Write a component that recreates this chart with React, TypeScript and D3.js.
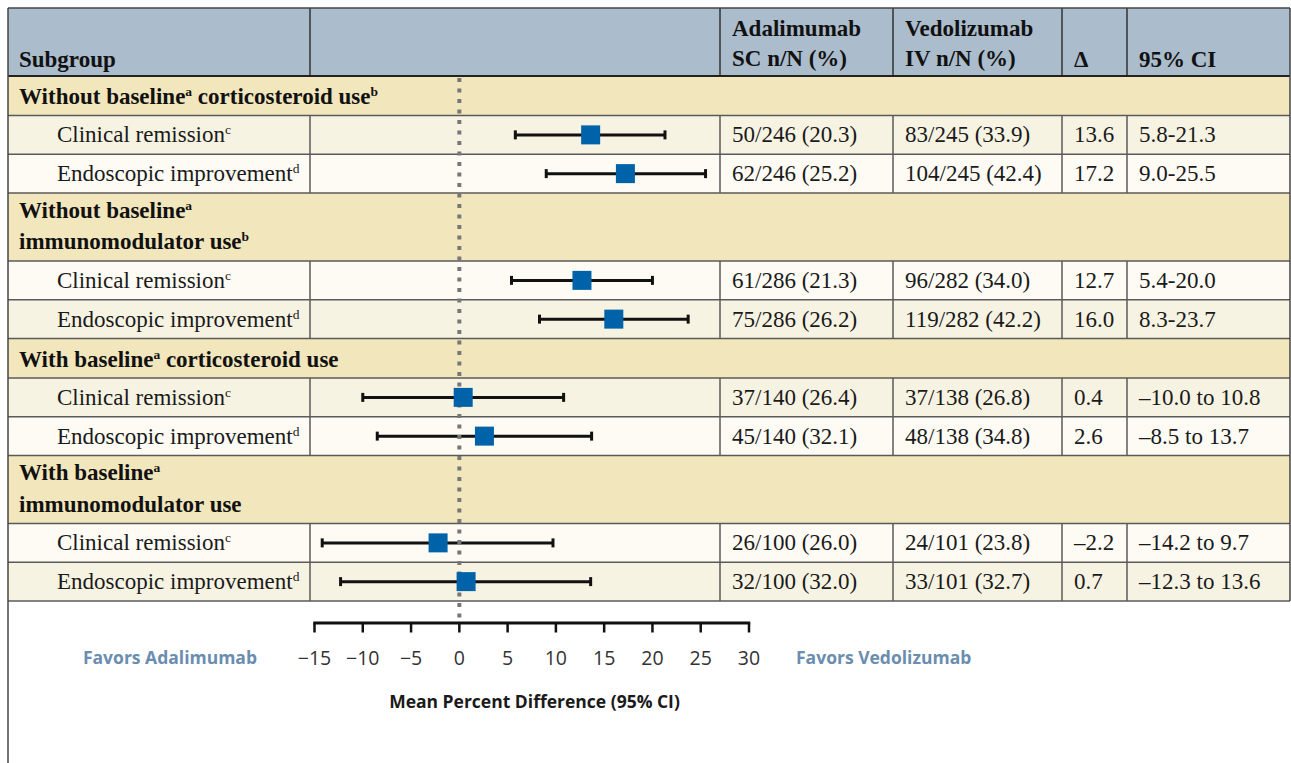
import React from "react";
import * as d3 from "d3";

// ---------- data ----------
const groupTitles: string[][] = [
  ["Without baseline^a corticosteroid use^b"],
  ["Without baseline^a", "immunomodulator use^b"],
  ["With baseline^a corticosteroid use"],
  ["With baseline^a", "immunomodulator use"],
];
const outcomeLabels = ["Clinical remission^c", "Endoscopic improvement^d"];
const adalimumabText = [
  "50/246 (20.3)", "62/246 (25.2)",
  "61/286 (21.3)", "75/286 (26.2)",
  "37/140 (26.4)", "45/140 (32.1)",
  "26/100 (26.0)", "32/100 (32.0)",
];
const vedolizumabText = [
  "83/245 (33.9)", "104/245 (42.4)",
  "96/282 (34.0)", "119/282 (42.2)",
  "37/138 (26.8)", "48/138 (34.8)",
  "24/101 (23.8)", "33/101 (32.7)",
];
const deltaValues = [13.6, 17.2, 12.7, 16.0, 0.4, 2.6, -2.2, 0.7];
const ciLow = [5.8, 9.0, 5.4, 8.3, -10.0, -8.5, -14.2, -12.3];
const ciHigh = [21.3, 25.5, 20.0, 23.7, 10.8, 13.7, 9.7, 13.6];
const tickValues = [-15, -10, -5, 0, 5, 10, 15, 20, 25, 30];
const headerLabels: string[][] = [
  ["Subgroup"],
  [],
  ["Adalimumab", "SC n/N (%)"],
  ["Vedolizumab", "IV n/N (%)"],
  ["Δ"],
  ["95% CI"],
];
const axisTitle = "Mean Percent Difference (95% CI)";
const favorsLeft = "Favors Adalimumab";
const favorsRight = "Favors Vedolizumab";

// ---------- layout ----------
const W = 1291;
const H = 763;
const tableLeft = 8;
const tableRight = 1290;
const tableTop = 8;
const headerBottom = 76;
const colLines = [310, 720, 893, 1062, 1127];
const dataRowH = 38.75;
const groupH1 = 39.5;
const groupH2 = 68;

const SERIF = "'Liberation Serif', 'Times New Roman', serif";
const SANS = "'Open Sans', 'Noto Sans', sans-serif";
const FS = 23;
const SUP = 13.5;
const SHIFT = 8;

const C_HEADER = "#abbccc";
const C_TAN = "#f2e6bc";
const C_DARK = "#f7f3e3";
const C_LIGHT = "#fdfbf4";
const C_BORDER = "#5a5a5a";
const C_BLUE = "#0063a9";
const C_FAVOR = "#6a8db0";

const fmt = (v: number) => v.toFixed(1).replace("-", "\u2013");
const ciString = (lo: number, hi: number) =>
  lo < 0 ? `${fmt(lo)} to ${fmt(hi)}` : `${fmt(lo)}-${fmt(hi)}`;

function rich(str: string, supSize = SUP, shift = SHIFT) {
  const parts = str.split(/\^([a-z])/);
  const out: React.ReactNode[] = [];
  let shifted = false;
  parts.forEach((p, i) => {
    if (i % 2 === 1) {
      out.push(
        <tspan key={i} fontSize={supSize} dy={-shift}>
          {p}
        </tspan>
      );
      shifted = true;
    } else if (p) {
      out.push(
        <tspan key={i} dy={shifted ? shift : 0}>
          {p}
        </tspan>
      );
      shifted = false;
    }
  });
  return out;
}

type Row =
  | { kind: "group"; y0: number; y1: number; lines: string[]; fill: string }
  | { kind: "data"; y0: number; y1: number; idx: number; label: string; fill: string };

function buildRows(): Row[] {
  const rows: Row[] = [];
  let y = headerBottom;
  let stripe = 0;
  let idx = 0;
  groupTitles.forEach((lines) => {
    const h = lines.length > 1 ? groupH2 : groupH1;
    rows.push({ kind: "group", y0: y, y1: y + h, lines, fill: C_TAN });
    y += h;
    stripe++;
    outcomeLabels.forEach((label) => {
      rows.push({
        kind: "data",
        y0: y,
        y1: y + dataRowH,
        idx,
        label,
        fill: stripe % 2 === 1 ? C_DARK : C_LIGHT,
      });
      y += dataRowH;
      stripe++;
      idx++;
    });
  });
  return rows;
}

export default function App() {
  const rows = buildRows();
  const tableBottom = rows[rows.length - 1].y1;
  const x = d3.scaleLinear().domain([-15, 30]).range([314.5, 749]);
  const axisY = 623;
  const dataRows = rows.filter((r) => r.kind === "data") as Extract<Row, { kind: "data" }>[];

  return (
    <svg
      width={W}
      height={H}
      style={{ position: "absolute", left: 0, top: 0, display: "block", background: "#fff" }}
    >
      {/* header */}
      <rect x={tableLeft} y={tableTop} width={tableRight - tableLeft} height={headerBottom - tableTop} fill={C_HEADER} />
      {/* row fills */}
      {rows.map((r, i) => (
        <rect key={"f" + i} x={tableLeft} y={r.y0} width={tableRight - tableLeft} height={r.y1 - r.y0} fill={r.fill} />
      ))}
      {/* vertical column lines: header */}
      {colLines.map((cx, i) => (
        <line key={"hv" + i} x1={cx} x2={cx} y1={tableTop} y2={headerBottom} stroke="#333" strokeWidth={1.5} />
      ))}
      {/* vertical column lines: data rows */}
      {dataRows.map((r, i) =>
        colLines.map((cx, j) => (
          <line key={"dv" + i + "-" + j} x1={cx} x2={cx} y1={r.y0} y2={r.y1} stroke={C_BORDER} strokeWidth={1.5} />
        ))
      )}
      {/* horizontal lines */}
      {rows.map((r, i) => (
        <line key={"h" + i} x1={tableLeft} x2={tableRight} y1={r.y1} y2={r.y1} stroke={C_BORDER} strokeWidth={1.5} />
      ))}
      <line x1={tableLeft} x2={tableRight} y1={headerBottom} y2={headerBottom} stroke="#222" strokeWidth={1.8} />
      <line x1={tableLeft} x2={tableRight} y1={tableTop} y2={tableTop} stroke="#444" strokeWidth={1.5} />
      {/* outer frame */}
      <line x1={tableLeft} x2={tableLeft} y1={tableTop} y2={H} stroke="#444" strokeWidth={1.5} />
      <line x1={tableRight} x2={tableRight} y1={tableTop} y2={tableBottom} stroke="#444" strokeWidth={1.5} />

      {/* header text */}
      {headerLabels.map((lines, i) => {
        const tx = i === 0 ? 19 : colLines[i - 1] + 12;
        return lines.map((ln, k) => (
          <text
            key={"ht" + i + "-" + k}
            x={tx}
            y={lines.length === 2 ? (k === 0 ? 36 : 66) : 67}
            fontFamily={SERIF}
            fontWeight="bold"
            fontSize={FS}
            fill="#111"
          >
            {ln}
          </text>
        ));
      })}

      {/* group labels */}
      {rows.map((r, i) => {
        if (r.kind !== "group") return null;
        const cy = (r.y0 + r.y1) / 2;
        return r.lines.map((ln, k) => (
          <text
            key={"g" + i + "-" + k}
            x={19}
            y={r.lines.length === 1 ? cy + 8.5 : k === 0 ? cy - 9.5 : cy + 22}
            fontFamily={SERIF}
            fontWeight="bold"
            fontSize={FS}
            fill="#111"
          >
            {rich(ln)}
          </text>
        ));
      })}

      {/* data text */}
      {dataRows.map((r) => {
        const by = (r.y0 + r.y1) / 2 + 7.5;
        const i = r.idx;
        const cells = [
          adalimumabText[i],
          vedolizumabText[i],
          fmt(deltaValues[i]),
          ciString(ciLow[i], ciHigh[i]),
        ];
        return (
          <g key={"d" + i} fontFamily={SERIF} fontSize={FS} fill="#1a1a1a">
            <text x={57} y={by}>
              {rich(r.label)}
            </text>
            {cells.map((c, j) => (
              <text key={j} x={colLines[j + 1] + 12} y={by}>
                {c}
              </text>
            ))}
          </g>
        );
      })}

      {/* CI whiskers */}
      {dataRows.map((r) => {
        const cy = (r.y0 + r.y1) / 2;
        const i = r.idx;
        const x0 = x(ciLow[i]);
        const x1 = x(ciHigh[i]);
        return (
          <g key={"ci" + i} stroke="#111" strokeWidth={3}>
            <line x1={x0} x2={x1} y1={cy} y2={cy} />
            <line x1={x0} x2={x0} y1={cy - 4.5} y2={cy + 4.5} />
            <line x1={x1} x2={x1} y1={cy - 4.5} y2={cy + 4.5} />
          </g>
        );
      })}

      {/* zero reference line */}
      <line
        x1={x(0)}
        x2={x(0)}
        y1={headerBottom + 2}
        y2={axisY - 5}
        stroke="#777"
        strokeWidth={4}
        strokeDasharray="4 6.5"
      />

      {/* point estimates */}
      {dataRows.map((r) => {
        const cy = (r.y0 + r.y1) / 2;
        const i = r.idx;
        return <rect key={"sq" + i} x={x(deltaValues[i]) - 9.5} y={cy - 9.5} width={19} height={19} fill={C_BLUE} />;
      })}

      {/* axis */}
      <line x1={x(-15) - 1.25} x2={x(30) + 1.25} y1={axisY} y2={axisY} stroke="#111" strokeWidth={3} />
      {tickValues.map((t) => (
        <g key={"t" + t}>
          <line x1={x(t)} x2={x(t)} y1={axisY} y2={axisY + 9.5} stroke="#111" strokeWidth={2.5} />
          <text x={x(t)} y={665} textAnchor="middle" fontFamily={SANS} fontSize={19.5} fill="#333">
            {t < 0 ? "\u2212" + Math.abs(t) : String(t)}
          </text>
        </g>
      ))}
      <text x={257} y={664} textAnchor="end" fontFamily={SANS} fontWeight="bold" fontSize={17.5} fill={C_FAVOR}>
        {favorsLeft}
      </text>
      <text x={796} y={664} fontFamily={SANS} fontWeight="bold" fontSize={17.5} fill={C_FAVOR}>
        {favorsRight}
      </text>
      <text x={534.5} y={708} textAnchor="middle" fontFamily={SANS} fontWeight="bold" fontSize={17.5} fill="#1a1a1a">
        {axisTitle}
      </text>
    </svg>
  );
}
